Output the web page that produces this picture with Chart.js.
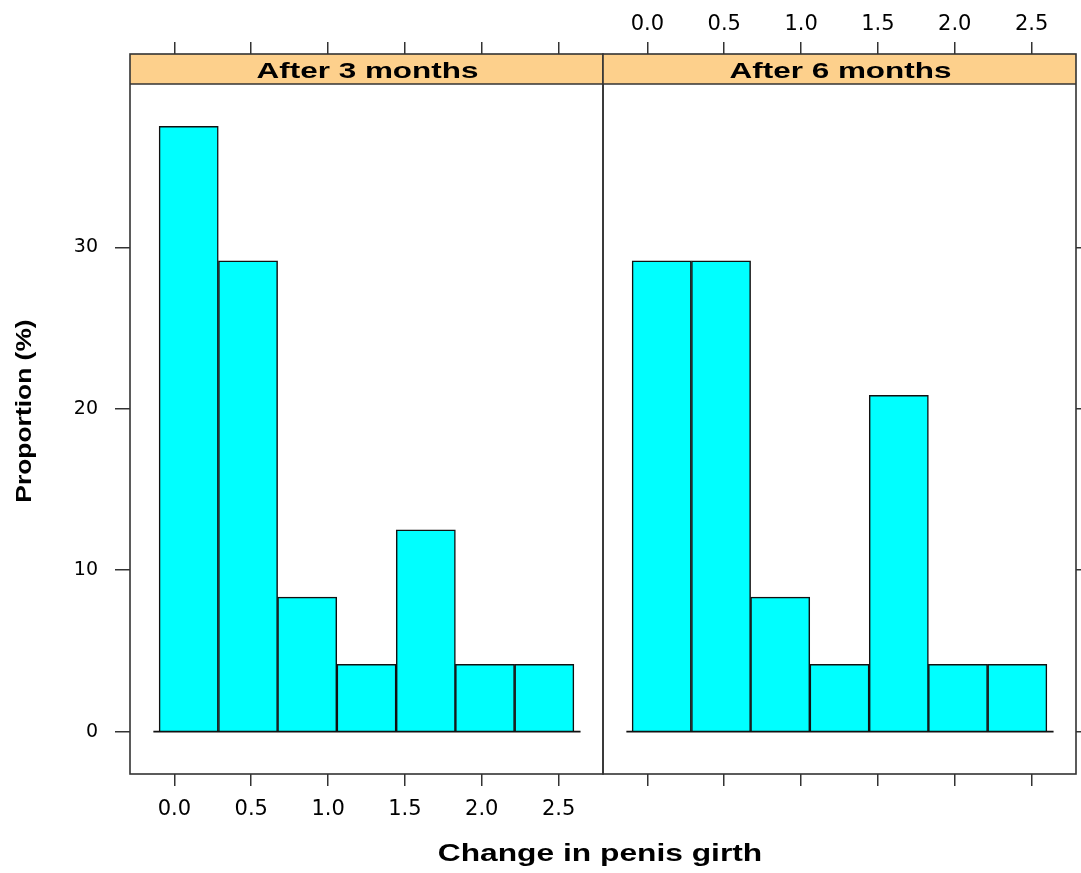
<!DOCTYPE html>
<html lang="en">
<head>
    <meta charset="UTF-8">
    <title>Change in penis girth</title>
    <script src="https://cdn.jsdelivr.net/npm/chart.js"></script>
    <style>
        body { margin: 0; background: #fff; }
        #wrap { position: relative; width: 1081px; height: 873px; }
        #wrap canvas { position: absolute; left: 0; top: 0; }
    </style>
</head>
<body>
<div id="wrap">
    <canvas id="panel1" width="1081" height="873"></canvas>
    <canvas id="panel2" width="1081" height="873"></canvas>
</div>

<script>
    // histogram bins (mid points) and proportions
    const binCenters = [0.093, 0.479, 0.864, 1.25, 1.636, 2.021, 2.407];
    const after3 = [37.5, 29.17, 8.33, 4.17, 12.5, 4.17, 4.17];
    const after6 = [29.17, 29.17, 8.33, 4.17, 20.83, 4.17, 4.17];
    const xTicks = [0, 0.5, 1, 1.5, 2, 2.5];
    const yTicks = [0, 10, 20, 30];
    const baseline = [-0.137, 2.643];
    const panelTitles = ['After 3 months', 'After 6 months'];
    const xTitle = 'Change in penis girth';
    const yTitle = 'Proportion (%)';

    const tickCol = '#333';
    const stripH = 30;

    function tickGrid(len) {
        return {
            display: true, drawOnChartArea: false, drawTicks: true,
            tickLength: len, color: tickCol, lineWidth: 1.5, offset: false
        };
    }

    // wide bold text, like the stretched font of the original
    function wideText(ctx, txt, x, y, size, sx) {
        ctx.save();
        ctx.translate(x, y);
        ctx.scale(sx, 1);
        ctx.font = 'bold ' + size + 'px "Liberation Sans", Arial';
        ctx.textAlign = 'center';
        ctx.textBaseline = 'alphabetic';
        ctx.fillText(txt, 0, 0);
        ctx.restore();
    }

    // frame + strip for each panel, axis titles on the first one
    const panelDeco = {
        id: 'panelDeco',
        afterDraw(chart, args, opts) {
            const ctx = chart.ctx;
            const a = chart.chartArea;
            ctx.save();
            ctx.fillStyle = '#FDD08C';
            ctx.fillRect(a.left, a.top, a.right - a.left, stripH);
            ctx.strokeStyle = tickCol;
            ctx.lineWidth = 1.6;
            ctx.strokeRect(a.left, a.top, a.right - a.left, a.bottom - a.top);
            ctx.beginPath();
            ctx.moveTo(a.left, a.top + stripH);
            ctx.lineTo(a.right, a.top + stripH);
            ctx.stroke();

            ctx.fillStyle = '#000';
            wideText(ctx, opts.title, (a.left + a.right) / 2 + 1, a.top + 24, 22, 1.43);

            if (opts.axisTitles) {
                wideText(ctx, xTitle, 600, 861, 23, 1.38);
                ctx.save();
                ctx.translate(31, 411);
                ctx.rotate(-Math.PI / 2);
                wideText(ctx, yTitle, 0, 0, 22, 1.2);
                ctx.restore();
            }
            ctx.restore();
        }
    };

    function makePanel(id, values, title, isLeft) {
        const xAxis = (pos, showLabels, pad, h) => ({
            type: 'linear', position: pos,
            min: -0.289, max: 2.789, offset: false,
            grid: tickGrid(12),
            border: {display: false},
            ticks: {
                display: showLabels, padding: pad, autoSkip: false, maxRotation: 0,
                color: '#000', font: {family: 'DejaVu Sans', size: 21},
                callback: v => v.toFixed(1)
            },
            afterBuildTicks: s => { s.ticks = xTicks.map(v => ({value: v})); },
            afterFit: s => { s.height = h; }
        });

        return new Chart(document.getElementById(id), {
            type: 'bar',
            data: {
                datasets: [{
                    type: 'line',
                    data: baseline.map(x => ({x: x, y: 0})),
                    borderColor: '#111', borderWidth: 1.8,
                    pointRadius: 0, fill: false
                }, {
                    data: binCenters.map((x, i) => ({x: x, y: values[i]})),
                    backgroundColor: '#00FFFF',
                    borderColor: '#111',
                    borderWidth: 1.5,
                    barPercentage: 1,
                    categoryPercentage: 1
                }]
            },
            options: {
                responsive: false,
                animation: false,
                layout: {padding: isLeft ? {right: 478} : {left: 603}},
                plugins: {
                    legend: {display: false},
                    tooltip: {enabled: false},
                    panelDeco: {title: title, axisTitles: isLeft}
                },
                scales: {
                    x: xAxis('bottom', isLeft, 11, 99),
                    x2: xAxis('top', !isLeft, 5, 54),
                    y: {
                        type: 'linear', position: isLeft ? 'left' : 'right',
                        min: -2.625, max: 41.984,
                        grid: tickGrid(isLeft ? 15 : 6),
                        border: {display: false},
                        ticks: {
                            display: isLeft, padding: 17,
                            color: '#000', font: {family: 'DejaVu Sans', size: 19}
                        },
                        afterBuildTicks: s => { s.ticks = yTicks.map(v => ({value: v})); },
                        afterFit: s => { s.width = isLeft ? 130 : 5; }
                    }
                }
            },
            plugins: [panelDeco]
        });
    }

    makePanel('panel1', after3, panelTitles[0], true);
    makePanel('panel2', after6, panelTitles[1], false);
</script>
</body>
</html>
